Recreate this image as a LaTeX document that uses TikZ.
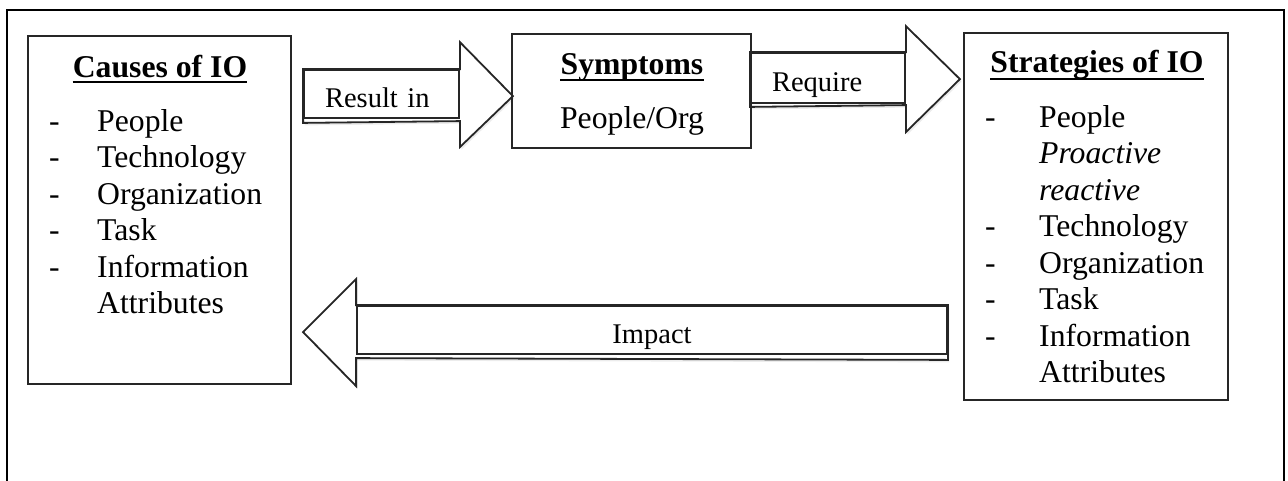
\documentclass[tikz,border=0pt]{standalone}
\usepackage{fontspec}
\setmainfont{Liberation Serif}
\usetikzlibrary{positioning,shadows,backgrounds}

\begin{document}
\begin{tikzpicture}[x=1pt,y=-1pt,
		box/.style={draw=black!85,line width=1.8pt,inner sep=0pt},
		labelbox/.style={draw=black!85,line width=1.8pt,inner sep=0pt,text height=26pt,text depth=0pt,font=\fontsize{28.5}{32}\selectfont},
		blockarrow/.style={draw=black!85,line width=1.8pt,fill=white,line join=miter,drop shadow={opacity=0.15,shadow xshift=1.5pt,shadow yshift=-2.5pt}},
		title/.style={inner sep=0pt,anchor=base,font=\fontsize{31.7}{36}\selectfont\bfseries},
		item/.style={inner sep=0pt,anchor=base west,font=\fontsize{31.7}{36}\selectfont},
		uline/.style={line width=1.5pt}]
		\useasboundingbox (0,0) rectangle (1288,480);
		\draw[line width=2.8pt] (7,482) -- (7,10) -- (1284,10) -- (1284,482);

		% boxes
		\node [box,minimum width=263pt,minimum height=348pt] (causes) at (159.5,210) {};
		\node [box,minimum width=239pt,minimum height=114pt] (symptoms) at (631.5,91) {};
		\node [box,minimum width=264pt,minimum height=367pt] (strategies) at (1096,216.5) {};

		% titles
		\node [title] (causestitle) at (160,77) {Causes of IO};
		\node [title] (symptomstitle) at (632,74) {Symptoms};
		\node [title] (strategiestitle) at (1097,72) {Strategies of IO};
		\draw[uline] ([yshift=-5pt]causestitle.base west) -- ([yshift=-5pt]causestitle.base east);
		\draw[uline] ([yshift=-6pt]symptomstitle.base west) -- ([yshift=-6pt]symptomstitle.base east);
		\draw[uline] ([yshift=-7pt]strategiestitle.base west) -- ([yshift=-7pt]strategiestitle.base east);

		% causes list
		\node [item] (cd1) at (49,131) {-};
		\node [item] (cd2) at (49,167) {-};
		\node [item] (cd3) at (49,204) {-};
		\node [item] (cd4) at (49,240) {-};
		\node [item] (cd5) at (49,277) {-};
		\node [item] (c1) at (97,131) {People};
		\node [item] (c2) at (97,167) {Technology};
		\node [item] (c3) at (97,204) {Organization};
		\node [item] (c4) at (97,240) {Task};
		\node [item] (c5) at (97,277) {Information};
		\node [item] (c6) at (97,313) {Attributes};

		% symptoms
		\node [item,anchor=base] (s1) at (632,128) {People/Org};

		% strategies list
		\node [item] (sd1) at (985,127) {-};
		\node [item] (sd2) at (985,236.5) {-};
		\node [item] (sd3) at (985,273) {-};
		\node [item] (sd4) at (985,309.5) {-};
		\node [item] (sd5) at (985,346) {-};
		\node [item] (t1) at (1039,127) {People};
		\node [item] (t2) at (1039,163.5) {\itshape Proactive};
		\node [item] (t3) at (1039,200) {\itshape reactive};
		\node [item] (t4) at (1039,236.5) {Technology};
		\node [item] (t5) at (1039,273) {Organization};
		\node [item] (t6) at (1039,309.5) {Task};
		\node [item] (t7) at (1039,346) {Information};
		\node [item] (t8) at (1039,382.5) {Attributes};

		% arrow labels
		\node [labelbox,minimum height=48pt,text width=113pt,inner xsep=21pt,align=left] (resultin) at (381.5,94) {Result in};
		\node [labelbox,minimum height=50pt,text width=112pt,inner xsep=21pt,align=left] (require) at (828,78) {Require};
		\node [labelbox,minimum width=590pt,minimum height=48pt] (impact) at (652,330) {Impact};

		\begin{scope}[on background layer]
		\draw[blockarrow] (resultin.north west) -- (resultin.north east) -- ++(0,-27) -- ++(53,54) -- ++(-53,51) -- ++(0,-26) -- ([yshift=-4pt]resultin.south west) -- cycle;
		\draw[blockarrow] (require.north west) -- (require.north east) -- ++(0,-26) -- ++(54,53) -- ++(-54,53) -- ++(0,-27) -- ([yshift=-3pt]require.south west) -- cycle;
		\draw[blockarrow] (impact.north east) -- (impact.north west) -- ++(0,-26) -- ++(-53,53) -- ++(53,54) -- ++(0,-28) -- ([yshift=-5pt]impact.south east) -- cycle;
		\end{scope}
	\end{tikzpicture}
\end{document}
